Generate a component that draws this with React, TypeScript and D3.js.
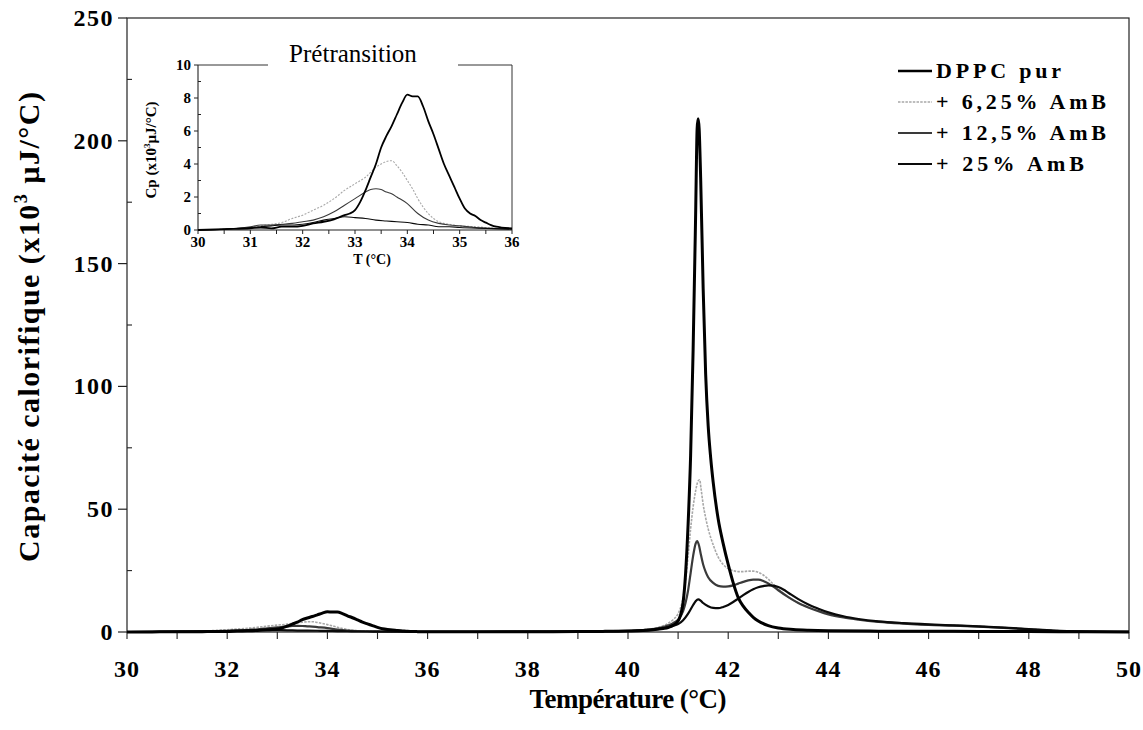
import React from "react";
import * as d3 from "d3";

type Pt = [number, number];

// Température (°C), Cp (x10^3 µJ/°C)
const dppcPur: Pt[] = [
  [30.0, 0], [30.5, 0.05], [31.0, 0.1], [31.2, 0.15], [31.4, 0.1], [31.6, 0.2], [31.8, 0.2], [32.0, 0.25],
  [32.2, 0.4], [32.4, 0.5], [32.6, 0.65], [32.8, 0.9], [32.9, 1.0], [33.0, 1.2], [33.1, 1.7], [33.2, 2.4],
  [33.3, 3.2], [33.4, 4.0], [33.5, 5.0], [33.6, 5.7], [33.7, 6.3], [33.8, 7.0], [33.9, 7.7], [34.0, 8.2],
  [34.1, 8.1], [34.2, 8.1], [34.3, 7.5], [34.4, 6.6], [34.5, 5.8], [34.6, 4.9], [34.7, 4.0], [34.8, 3.3],
  [34.9, 2.6], [35.0, 1.9], [35.1, 1.3], [35.2, 1.0], [35.3, 0.85], [35.4, 0.6], [35.5, 0.45], [35.6, 0.3],
  [35.7, 0.2], [35.8, 0.15], [36.0, 0.1], [36.5, 0.08], [37.0, 0.1], [37.5, 0.1], [38.0, 0.12], [38.5, 0.15],
  [39.0, 0.2], [39.5, 0.25], [40.0, 0.4], [40.3, 0.6], [40.5, 0.9], [40.7, 1.4], [40.8, 1.8], [40.9, 2.7],
  [41.0, 4.5], [41.05, 7], [41.1, 12], [41.15, 24], [41.2, 44], [41.25, 72], [41.3, 115], [41.35, 170],
  [41.38, 205], [41.4, 209], [41.42, 205], [41.45, 185], [41.5, 140], [41.55, 105], [41.6, 84], [41.65, 71],
  [41.7, 61], [41.8, 46], [41.9, 36], [42.0, 27.5], [42.1, 20], [42.2, 14], [42.3, 10.5], [42.4, 8],
  [42.5, 6], [42.6, 4.5], [42.8, 2.6], [43.0, 1.6], [43.3, 1.0], [43.6, 0.7], [44.0, 0.5], [45.0, 0.35],
  [46.0, 0.3], [47.0, 0.25], [48.0, 0.2], [49.0, 0.1], [50.0, 0.05],
];

const amb625: Pt[] = [
  [30.0, 0], [30.5, 0.05], [31.0, 0.15], [31.2, 0.25], [31.4, 0.35], [31.6, 0.45], [31.8, 0.7], [32.0, 0.9],
  [32.2, 1.2], [32.4, 1.5], [32.6, 1.9], [32.8, 2.4], [33.0, 2.8], [33.2, 3.2], [33.4, 3.8], [33.5, 4.0],
  [33.6, 4.15], [33.7, 4.2], [33.8, 3.9], [33.9, 3.5], [34.0, 3.0], [34.1, 2.5], [34.2, 1.9], [34.3, 1.4],
  [34.4, 1.0], [34.5, 0.7], [34.6, 0.5], [34.8, 0.35], [35.0, 0.25], [35.3, 0.2], [35.6, 0.12], [36.0, 0.05],
  [37.0, 0.1], [38.0, 0.15], [39.0, 0.25], [40.0, 0.5], [40.3, 0.9], [40.5, 1.4], [40.7, 2.5], [40.8, 3.5],
  [40.9, 5], [41.0, 7.5], [41.05, 10], [41.1, 14], [41.15, 21], [41.2, 31], [41.25, 42], [41.3, 51],
  [41.35, 57.5], [41.4, 61.5], [41.43, 62], [41.46, 58], [41.5, 52], [41.55, 46.5], [41.6, 42], [41.65, 38.5],
  [41.7, 35.5], [41.8, 30.5], [41.9, 27.5], [42.0, 25.8], [42.1, 25], [42.2, 24.6], [42.3, 24.6], [42.4, 24.8],
  [42.5, 24.8], [42.6, 24.3], [42.7, 23.2], [42.8, 21.5], [42.9, 19.5], [43.0, 17.5], [43.2, 14.2], [43.4, 11.8],
  [43.6, 10], [43.8, 8.6], [44.0, 7.4], [44.3, 6.1], [44.6, 5.1], [45.0, 4.2], [45.5, 3.5], [46.0, 3.0],
  [46.5, 2.7], [47.0, 2.3], [47.5, 1.8], [48.0, 1.2], [48.5, 0.6], [49.0, 0.25], [49.5, 0.1], [50.0, 0.05],
];

const amb125: Pt[] = [
  [30.0, 0], [30.5, 0.05], [31.0, 0.2], [31.2, 0.3], [31.4, 0.3], [31.6, 0.35], [31.8, 0.4], [32.0, 0.5],
  [32.2, 0.6], [32.4, 0.8], [32.6, 1.1], [32.8, 1.5], [33.0, 1.9], [33.2, 2.3], [33.3, 2.45], [33.4, 2.5],
  [33.5, 2.45], [33.6, 2.3], [33.7, 2.2], [33.8, 2.0], [34.0, 1.6], [34.2, 1.0], [34.4, 0.6], [34.6, 0.4],
  [34.8, 0.3], [35.0, 0.25], [35.3, 0.15], [35.6, 0.1], [36.0, 0.05], [37.0, 0.1], [38.0, 0.15], [39.0, 0.25],
  [40.0, 0.45], [40.3, 0.8], [40.5, 1.2], [40.7, 2], [40.8, 2.7], [40.9, 3.6], [41.0, 5], [41.1, 8.5],
  [41.15, 12], [41.2, 17], [41.25, 24], [41.3, 31], [41.35, 36], [41.38, 37], [41.42, 35], [41.45, 32],
  [41.5, 27.5], [41.55, 24.5], [41.6, 22.3], [41.7, 20], [41.8, 18.8], [41.9, 18.5], [42.0, 18.6], [42.1, 19],
  [42.2, 19.7], [42.3, 20.4], [42.4, 21], [42.5, 21.3], [42.6, 21.3], [42.7, 20.8], [42.8, 19.8], [42.9, 18.5],
  [43.0, 17], [43.2, 14.2], [43.4, 11.8], [43.6, 10], [43.8, 8.5], [44.0, 7.2], [44.3, 5.9], [44.6, 5.0],
  [45.0, 4.1], [45.5, 3.4], [46.0, 2.9], [46.5, 2.6], [47.0, 2.2], [47.5, 1.7], [48.0, 1.1], [48.5, 0.5],
  [49.0, 0.2], [50.0, 0.05],
];

const amb25: Pt[] = [
  [30.0, 0], [30.5, 0.05], [31.0, 0.15], [31.2, 0.2], [31.4, 0.25], [31.6, 0.3], [31.8, 0.3], [32.0, 0.35],
  [32.2, 0.45], [32.4, 0.6], [32.6, 0.7], [32.8, 0.8], [33.0, 0.75], [33.2, 0.7], [33.4, 0.6], [33.6, 0.55],
  [33.8, 0.5], [34.0, 0.45], [34.2, 0.35], [34.4, 0.3], [34.6, 0.2], [34.8, 0.2], [35.0, 0.15], [35.5, 0.1],
  [36.0, 0.05], [37.0, 0.1], [38.0, 0.15], [39.0, 0.2], [40.0, 0.4], [40.3, 0.7], [40.5, 1.0], [40.7, 1.5],
  [40.8, 2.0], [40.9, 2.5], [41.0, 3.2], [41.1, 4.8], [41.2, 7.5], [41.3, 11], [41.35, 12.5], [41.4, 13.3],
  [41.45, 12.8], [41.5, 11.8], [41.6, 10.5], [41.7, 9.8], [41.8, 9.7], [41.9, 10.2], [42.0, 11], [42.1, 12.2],
  [42.2, 13.6], [42.3, 15], [42.4, 16.3], [42.5, 17.4], [42.6, 18.2], [42.7, 18.7], [42.8, 19], [42.9, 18.9],
  [43.0, 18.3], [43.1, 17.3], [43.2, 16], [43.4, 13.4], [43.6, 11.2], [43.8, 9.5], [44.0, 8.0], [44.3, 6.4],
  [44.6, 5.3], [45.0, 4.3], [45.5, 3.6], [46.0, 3.1], [46.5, 2.7], [47.0, 2.3], [47.5, 1.8], [48.0, 1.2],
  [48.5, 0.6], [49.0, 0.25], [50.0, 0.05],
];

const seriesLabels = ["DPPC pur", "+ 6,25% AmB", "+ 12,5% AmB", "+ 25% AmB"];
const mainXTicks = [30, 32, 34, 36, 38, 40, 42, 44, 46, 48, 50];
const mainYTicks = [0, 50, 100, 150, 200, 250];
const insetXTicks = [30, 31, 32, 33, 34, 35, 36];
const insetYTicks = [0, 2, 4, 6, 8, 10];

const FONT = "'Liberation Serif', 'Times New Roman', serif";

export default function App() {
  const W = 1143, H = 730;
  const x = d3.scaleLinear().domain([30, 50]).range([127, 1129]);
  const y = d3.scaleLinear().domain([0, 250]).range([632, 18]);
  const ix = d3.scaleLinear().domain([30, 36]).range([198, 512]);
  const iy = d3.scaleLinear().domain([0, 10]).range([230, 65]);

  const mainLine = d3.line<Pt>().x(d => x(d[0])).y(d => y(d[1])).curve(d3.curveMonotoneX);
  const insetLine = d3.line<Pt>().x(d => ix(d[0])).y(d => iy(d[1])).curve(d3.curveMonotoneX);

  const series = [
    { data: dppcPur, label: seriesLabels[0], color: "#000", w: 3, iw: 1.8, dash: undefined as string | undefined, lw: 2.6 },
    { data: amb625, label: seriesLabels[1], color: "#a8a8a8", w: 1.6, iw: 1.1, dash: "2.5 1.2", lw: 1.6 },
    { data: amb125, label: seriesLabels[2], color: "#3a3a3a", w: 2.2, iw: 1.1, dash: undefined, lw: 2 },
    { data: amb25, label: seriesLabels[3], color: "#0a0a0a", w: 2.2, iw: 1.1, dash: undefined, lw: 2.2 },
  ];
  const drawOrder = [1, 2, 3, 0];

  const yMinor = d3.range(25, 250, 50);
  const xMinor = d3.range(30, 51, 1);
  const iyMinor = d3.range(1, 10, 2);
  const ixMinor = d3.range(30, 36.01, 0.5);

  const legendY = [78, 109, 140, 171];
  const legendWidths = [125, 170, 170, 148];

  return (
    <svg width={W} height={H} style={{ position: "absolute", left: 0, top: 0, background: "#fff" }}
      fontFamily={FONT}>
      <rect x={0} y={0} width={W} height={H} fill="#fff" />
      {/* main frame */}
      <rect x={x(30)} y={y(250)} width={x(50) - x(30)} height={y(0) - y(250)} fill="none" stroke="#222" strokeWidth={1.2} />
      {/* y ticks */}
      {mainYTicks.map(t => (
        <g key={"yt" + t}>
          <line x1={x(30) - 9} x2={x(30)} y1={y(t)} y2={y(t)} stroke="#222" strokeWidth={1.2} />
          <text x={114} y={y(t) + 8} textAnchor="end" fontSize={24} fontWeight="bold" letterSpacing={1.5}>{t}</text>
        </g>
      ))}
      {yMinor.map(t => (
        <line key={"ym" + t} x1={x(30)} x2={x(30) + 5} y1={y(t)} y2={y(t)} stroke="#222" strokeWidth={1.1} />
      ))}
      {/* x ticks */}
      {xMinor.map(t => (
        <line key={"xm" + t} x1={x(t)} x2={x(t)} y1={y(0)} y2={y(0) + 7} stroke="#222" strokeWidth={1.1} />
      ))}
      {mainXTicks.map(t => (
        <text key={"xt" + t} x={x(t)} y={677} textAnchor="middle" fontSize={24} fontWeight="bold" letterSpacing={1}>{t}</text>
      ))}
      {/* axis titles */}
      <text x={628} y={708} textAnchor="middle" fontSize={27} fontWeight="bold" textLength={197} lengthAdjust="spacing">Température (°C)</text>
      <text transform="translate(39,327) rotate(-90)" textAnchor="middle" fontSize={30} fontWeight="bold"
        textLength={470} lengthAdjust="spacing">
        Capacité calorifique (x10<tspan fontSize={18} dy={-12}>3</tspan><tspan dy={12}> µJ/°C)</tspan>
      </text>

      {/* main curves */}
      {drawOrder.map(i => {
        const s = series[i];
        return <path key={"m" + i} d={mainLine(s.data) || ""} fill="none" stroke={s.color} strokeWidth={s.w}
          strokeDasharray={s.dash} strokeLinejoin="round" />;
      })}

      {/* legend */}
      {series.map((s, i) => (
        <g key={"lg" + i}>
          <line x1={898} x2={932} y1={legendY[i] - 7} y2={legendY[i] - 7} stroke={s.color} strokeWidth={s.lw}
            strokeDasharray={s.dash} />
          <text x={936} y={legendY[i]} fontSize={22} fontWeight="bold" textLength={legendWidths[i]} lengthAdjust="spacing">{s.label}</text>
        </g>
      ))}

      {/* inset */}
      <g>
        <rect x={ix(30)} y={iy(10)} width={ix(36) - ix(30)} height={iy(0) - iy(10)} fill="#fff" />
        <line x1={ix(30)} x2={ix(30)} y1={iy(10)} y2={iy(0)} stroke="#222" strokeWidth={1.1} />
        <line x1={ix(30)} x2={ix(36)} y1={iy(0)} y2={iy(0)} stroke="#222" strokeWidth={1.1} />
        <line x1={ix(36)} x2={ix(36)} y1={iy(10)} y2={iy(0)} stroke="#333" strokeWidth={1} />
        <line x1={ix(30)} x2={268} y1={iy(10)} y2={iy(10)} stroke="#333" strokeWidth={1} />
        <line x1={458} x2={ix(36)} y1={iy(10)} y2={iy(10)} stroke="#333" strokeWidth={1} />
        <text x={353} y={62} textAnchor="middle" fontSize={25}>Prétransition</text>
        {insetYTicks.map(t => (
          <g key={"iyt" + t}>
            <line x1={ix(30) - 4} x2={ix(30)} y1={iy(t)} y2={iy(t)} stroke="#222" strokeWidth={1} />
            <text x={ix(30) - 7} y={iy(t) + 5} textAnchor="end" fontSize={15} fontWeight="bold">{t}</text>
          </g>
        ))}
        {iyMinor.map(t => (
          <line key={"iym" + t} x1={ix(30)} x2={ix(30) + 3} y1={iy(t)} y2={iy(t)} stroke="#222" strokeWidth={1} />
        ))}
        {ixMinor.map(t => (
          <line key={"ixm" + t} x1={ix(t)} x2={ix(t)} y1={iy(0)} y2={iy(0) + 4} stroke="#222" strokeWidth={1} />
        ))}
        {insetXTicks.map(t => (
          <text key={"ixt" + t} x={ix(t)} y={247} textAnchor="middle" fontSize={15} fontWeight="bold">{t}</text>
        ))}
        <text x={372} y={264} textAnchor="middle" fontSize={14} fontWeight="bold">T (°C)</text>
        <text transform="translate(156,150) rotate(-90)" textAnchor="middle" fontSize={15} fontWeight="bold">
          Cp (x10<tspan fontSize={9} dy={-6}>3</tspan><tspan dy={6}>µJ/°C)</tspan>
        </text>
        {drawOrder.map(i => {
          const s = series[i];
          const d = s.data.filter(p => p[0] <= 36);
          return <path key={"i" + i} d={insetLine(d) || ""} fill="none" stroke={s.color} strokeWidth={s.iw}
            strokeDasharray={s.dash ? "2 1.5" : undefined} strokeLinejoin="round" />;
        })}
      </g>
    </svg>
  );
}
